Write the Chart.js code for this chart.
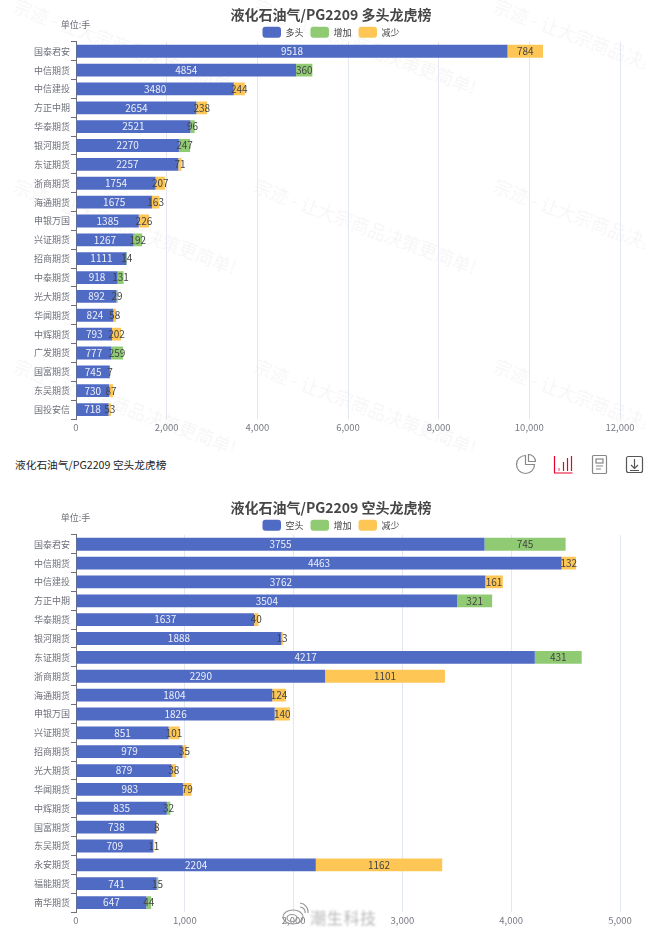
<!DOCTYPE html>
<html>
<head>
<meta charset="utf-8">
<style>
  body { margin: 0; background: #fff; font-family: "Noto Sans CJK SC", sans-serif; }
  #page { position: relative; width: 662px; height: 933px; overflow: hidden; }
  canvas { position: absolute; left: 0; }
  #marks { position: absolute; left: 0; top: 0; width: 645px; height: 452px; overflow: hidden; }
  #marks span { position: absolute; font-size: 18px; line-height: 18px; color: rgba(0,0,0,0.04); white-space: nowrap;
    transform: rotate(20.6deg); transform-origin: left top; filter: blur(0.4px); }
  #subtitle { position: absolute; left: 15px; top: 457px; font-size: 10.7px; line-height: 15px; color: #222; }
  #tools { position: absolute; left: 510px; top: 450px; }
  #weibo { position: absolute; left: 281px; top: 902px; }
  #weiboText { position: absolute; left: 310px; top: 906px; font-size: 16px; line-height: 22px; color: #b8b8b8;
    letter-spacing: 0.7px; filter: blur(1.1px); }
</style>
<script src="https://cdn.jsdelivr.net/npm/chart.js@4/dist/chart.umd.js"></script>
</head>
<body>
<div id="page">
  <div id="marks"></div>
  <canvas id="longChart" width="662" height="440" style="top:0"></canvas>
  <div id="subtitle">液化石油气/PG2209 空头龙虎榜</div>
  <svg id="tools" width="140" height="30" fill="none" stroke="#888" stroke-width="1.2">
    <path d="M15.500 5.500a9 9 0 1 0 9 9h-9z"/><path d="M18.500 4.500a7 7 0 0 1 7 7h-7z"/>
    <g stroke="#e8002a">
      <path d="M44.500 6v17h18"/><path d="M57.500 8v13M61.500 6v15"/>
      <path d="M53.500 12v9"/><path d="M49 18v3" stroke="#f59"/>
    </g>
    <rect x="82.500" y="5.500" width="14" height="18" rx="1"/><rect x="86" y="9" width="7" height="4"/>
    <path d="M86 16h7M86 19h5"/>
    <rect x="116.500" y="6.500" width="16" height="16" rx="2" stroke="#555"/>
    <path d="M124.500 9v9M121 15l3.500 3.500 3.500-3.500M120 20.500h9" stroke="#555"/>
  </svg>
  <canvas id="shortChart" width="662" height="440" style="top:493px"></canvas>
  <svg id="weibo" width="28" height="26" fill="none" stroke="#999" stroke-width="1.200">
    <ellipse cx="12" cy="15" rx="10" ry="7"/><ellipse cx="11" cy="16" rx="5" ry="3.500"/>
    <path d="M19 5a5 5 0 0 1 5 6M19 1a9 9 0 0 1 8 10"/>
  </svg>
  <div id="weiboText">潮生科技</div>
</div>
<script>
// long positions
const longBrokers = ['国泰君安','中信期货','中信建投','方正中期','华泰期货','银河期货','东证期货','浙商期货','海通期货','申银万国','兴证期货','招商期货','中泰期货','光大期货','华闻期货','中辉期货','广发期货','国富期货','东吴期货','国投安信'];
const longHeld = [9518,4854,3480,2654,2521,2270,2257,1754,1675,1385,1267,1111,918,892,824,793,777,745,730,718];
const longAdded = [0,360,0,0,96,247,0,0,0,0,192,14,131,29,0,0,259,7,0,0];
const longCut = [784,0,244,238,0,0,71,207,163,226,0,0,0,0,58,202,0,0,87,53];

// short positions
const shortBrokers = ['国泰君安','中信期货','中信建投','方正中期','华泰期货','银河期货','东证期货','浙商期货','海通期货','申银万国','兴证期货','招商期货','光大期货','华闻期货','中辉期货','国富期货','东吴期货','永安期货','福能期货','南华期货'];
const shortHeld = [3755,4463,3762,3504,1637,1888,4217,2290,1804,1826,851,979,879,983,835,738,709,2204,741,647];
const shortAdded = [745,0,0,321,0,0,431,0,0,0,0,0,0,0,32,0,0,0,15,44];
const shortCut = [0,132,161,0,40,13,0,1101,124,140,101,35,38,79,0,8,11,1162,0,0];

const fontName = '"Noto Sans CJK SC", sans-serif';
const blue = '#506bc4', green = '#90cb73', yellow = '#fdc655';

// writes the value in the middle of each segment, and the unit above the axis
const barLabels = {
  id: 'barLabels',
  beforeLayout(chart) {
    // the legend reserves more height than the original, trim it
    const legend = chart.legend;
    if (legend && !legend._trimmed) {
      const fit = legend.fit;
      legend.fit = function () { fit.call(this); this.height -= 6; };
      legend._trimmed = true;
    }
  },
  afterDatasetsDraw(chart) {
    const ctx = chart.ctx;
    ctx.save();
    ctx.font = '10px ' + fontName;
    ctx.textAlign = 'center';
    ctx.textBaseline = 'middle';
    chart.data.datasets.forEach((ds, i) => {
      ctx.fillStyle = i === 0 ? '#eef0f8' : '#444';
      chart.getDatasetMeta(i).data.forEach((bar, j) => {
        if (!ds.data[j]) return;
        const p = bar.getProps(['x', 'y', 'base'], true);
        ctx.fillText(ds.data[j], (p.x + p.base) / 2, p.y);
      });
    });
    ctx.fillStyle = '#6e7079';
    ctx.font = '9px ' + fontName;
    ctx.fillText('单位:手', 75.500, 25);
    ctx.restore();
  }
};

function makeChart(id, titleText, heldName, brokers, held, added, cut, xMax, xStep) {
  return new Chart(document.getElementById(id), {
    type: 'bar',
    plugins: [barLabels],
    data: {
      labels: brokers,
      datasets: [
        { label: heldName, data: held, backgroundColor: blue },
        { label: '增加', data: added, backgroundColor: green },
        { label: '减少', data: cut, backgroundColor: yellow }
      ]
    },
    options: {
      indexAxis: 'y',
      responsive: false,
      animation: false,
      datasets: { bar: { barPercentage: 0.68, categoryPercentage: 1 } },
      plugins: {
        tooltip: { enabled: false },
        title: {
          display: true,
          text: titleText,
          color: '#464646',
          font: { family: fontName, size: 14, weight: 'bold', lineHeight: 1.2 },
          padding: { top: 6, bottom: -3 }
        },
        legend: {
          display: true,
          labels: {
            boxWidth: 18.500,
            boxHeight: 11,
            padding: 7,
            color: '#444',
            useBorderRadius: true,
            borderRadius: 3,
            font: { family: fontName, size: 9 }
          }
        }
      },
      scales: {
        x: {
          stacked: true,
          min: 0,
          max: xMax,
          ticks: { stepSize: xStep, color: '#777a82', padding: 3, maxRotation: 0, font: { family: fontName, size: 9.500 } },
          grid: { color: '#e2e7f0', drawTicks: false },
          border: { display: false },
          afterFit(scale) { scale.height = 21; scale.paddingRight = 42; }
        },
        y: {
          stacked: true,
          ticks: { color: '#6e7079', padding: 1, autoSkip: false, font: { family: fontName, size: 9 } },
          grid: { offset: true, drawOnChartArea: false, tickLength: 5, color: '#6e7079' },
          border: { color: '#6e7079' },
          afterFit(scale) { scale.width = 76; }
        }
      }
    }
  });
}

makeChart('longChart', '液化石油气/PG2209 多头龙虎榜', '多头', longBrokers, longHeld, longAdded, longCut, 12000, 2000);
makeChart('shortChart', '液化石油气/PG2209 空头龙虎榜', '空头', shortBrokers, shortHeld, shortAdded, shortCut, 5000, 1000);

// faint background watermark
const marks = document.getElementById('marks');
[18, 258, 498].forEach(x => {
  [-4, 176, 356].forEach(y => {
    const s = document.createElement('span');
    s.textContent = '宗迹 - 让大宗商品决策更简单!';
    s.style.left = x + 'px';
    s.style.top = y + 'px';
    marks.appendChild(s);
  });
});
</script>
</body>
</html>
